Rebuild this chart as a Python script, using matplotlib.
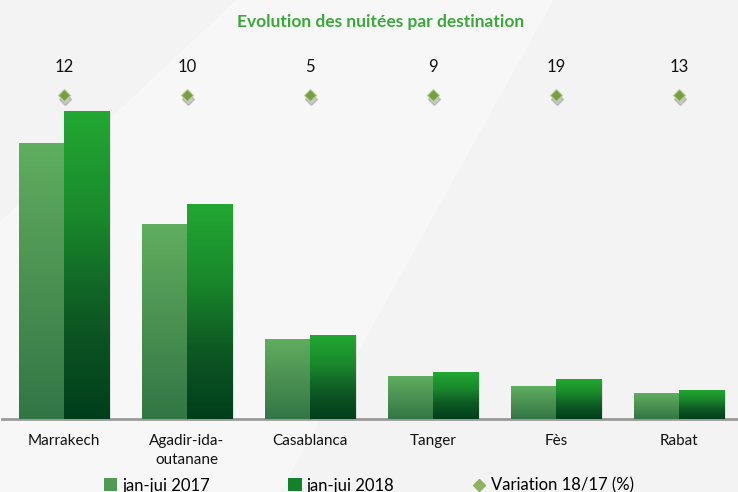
import numpy as np
import matplotlib.pyplot as plt
from matplotlib.colors import LinearSegmentedColormap
from matplotlib.patches import Patch, Polygon
from matplotlib.lines import Line2D

plt.rcParams["font.family"] = ["Lato", "DejaVu Sans"]

destinations = ["Marrakech", "Agadir-ida-\noutanane", "Casablanca", "Tanger", "Fès", "Rabat"]
nuitees_2017 = [3726, 2633, 1080, 580, 445, 351]
nuitees_2018 = [4158, 2903, 1134, 634, 540, 392]
variation = [12, 10, 5, 9, 19, 13]

cmap_2017 = LinearSegmentedColormap.from_list("c17", ["#327646", "#4b9152", "#5fae5f"])
cmap_2018 = LinearSegmentedColormap.from_list("c18", ["#003e1b", "#0e5a24", "#1a8a2c", "#22a832"])

fig = plt.figure(figsize=(7.38, 4.92), dpi=100)
fig.patch.set_facecolor("#f3f3f3")
# faint lighter diagonal band in the background
fig.patches.append(Polygon([[0.0, 0.55], [0.32, 1.0], [0.75, 1.0], [0.38, 0.0], [0.0, 0.0]],
                           closed=True, transform=fig.transFigure, facecolor="#f7f7f7",
                           edgecolor="none", zorder=-10))

ax = fig.add_axes([2.5 / 738, 0.1484, 738 / 738, 0.752])
ax.set_facecolor("none")

x = np.arange(len(destinations))
w = 0.366
grad = np.linspace(0, 1, 256).reshape(-1, 1)

for vals, offs, cmap in [(nuitees_2017, -w / 2, cmap_2017), (nuitees_2018, w / 2, cmap_2018)]:
    bars = ax.bar(x + offs, vals, width=w, color="none", edgecolor="none", zorder=3)
    for b in bars:
        x0, y0 = b.get_x(), 0
        x1, y1 = x0 + b.get_width(), b.get_height()
        # soft shadow
        ax.add_patch(plt.Rectangle((x0 + 0.02, 0), b.get_width(), y1 - 15, facecolor="#000000",
                                   alpha=0.08, edgecolor="none", zorder=2))
        im = ax.imshow(grad, cmap=cmap, aspect="auto", origin="lower",
                       extent=[x0, x1, y0, y1], zorder=3)
        im.set_clip_path(b)

ax.set_xlim(-0.5, len(destinations) - 0.5)
ax.set_ylim(0, 5000)

for i, v in enumerate(variation):
    ax.plot(i + 0.01, 0.866, marker="D", ms=6.5, color="#9a9a9a", alpha=0.5,
            transform=ax.get_xaxis_transform(), clip_on=False, zorder=4)
    ax.plot(i, 0.876, marker="D", ms=6.5, color="#76a03f", mec="#b5cf94", mew=0.8,
            transform=ax.get_xaxis_transform(), clip_on=False, zorder=5)
    ax.text(i, 0.951, str(v), ha="center", va="center", fontsize=12,
            transform=ax.get_xaxis_transform(), color="#111111")

ax.set_xticks(x)
ax.set_xticklabels(destinations, fontsize=11, color="#111111", va="top", linespacing=1.4)
ax.tick_params(axis="x", length=0, pad=11)
ax.set_yticks([])
for s in ["left", "right", "top"]:
    ax.spines[s].set_visible(False)
ax.spines["bottom"].set_color("#9a9a9a")
ax.spines["bottom"].set_linewidth(2)

fig.text(0.515, 0.955, "Evolution des nuitées par destination", ha="center", va="center",
         fontsize=12.5, fontweight="bold", color="#3ca83c")

handles = [Patch(facecolor="#4f9a55", edgecolor="none"),
           Patch(facecolor="#13812a", edgecolor="none"),
           Line2D([], [], marker="D", ls="none", ms=6, color="#8cb360")]
fig.legend(handles, ["jan-jui 2017", "jan-jui 2018", "Variation 18/17 (%)"],
           loc="center", bbox_to_anchor=(0.5, 0.013), ncol=3, frameon=False,
           fontsize=12, columnspacing=4.7, handlelength=0.8, handleheight=0.8,
           handletextpad=0.3)

fig.savefig("out.png", dpi=100, facecolor=fig.get_facecolor())
